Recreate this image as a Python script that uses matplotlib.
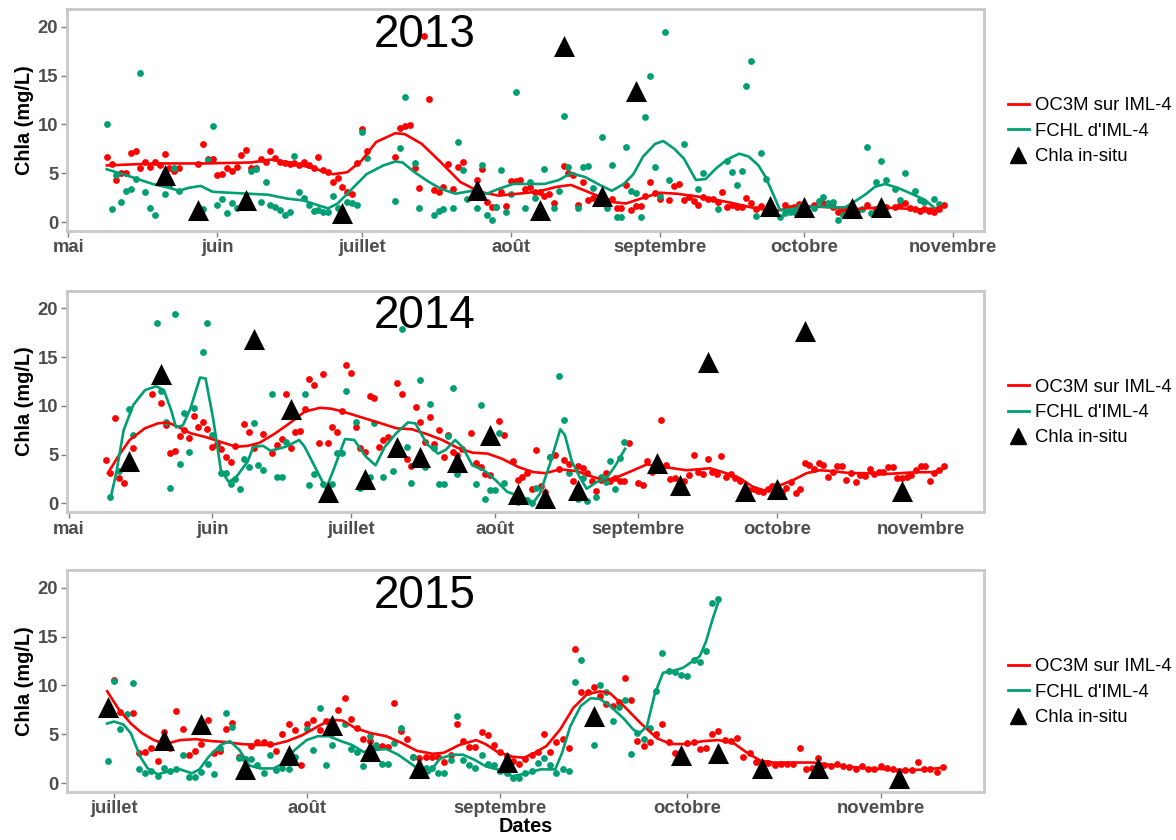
import numpy as np
import matplotlib
matplotlib.use("Agg")
import matplotlib.pyplot as plt
import matplotlib.dates as mdates
from matplotlib.lines import Line2D
from matplotlib.ticker import FuncFormatter

plt.rcParams["font.family"] = ["Liberation Sans", "DejaVu Sans"]

RED = "#FF0000"
GREEN = "#009E73"
MONTHS = ["janvier", "février", "mars", "avril", "mai", "juin", "juillet",
          "août", "septembre", "octobre", "novembre", "décembre"]

# (day, Chla) pairs; 2013 and 2014 days count from 1 May, 2015 from 1 July

# ---- 2013 ----
oc_2013 = [(8, 6.7), (9, 5.9), (10, 4.3), (11, 5.0), (12, 5.0), (13, 7.1), (14, 7.3), (15, 5.5), (16, 6.1),
           (17, 5.6), (18, 6.2), (19, 5.8), (20, 7.0), (21, 5.5), (22, 5.2), (23, 5.5), (27, 5.9), (28, 8.0),
           (29, 6.5), (30, 6.5), (31, 4.8), (32, 4.9), (33, 5.5), (34, 5.2), (35, 5.6), (36, 6.9), (37, 7.4),
           (38, 5.5), (39, 5.5), (40, 6.5), (41, 6.1), (42, 7.3), (43, 6.6), (44, 6.1), (45, 6.0), (46, 5.9),
           (47, 6.0), (48, 5.8), (49, 6.2), (50, 5.8), (51, 5.5), (52, 6.7), (53, 5.3), (54, 5.1), (55, 4.1),
           (56, 4.5), (57, 3.6), (58, 3.1), (59, 2.9), (60, 6.0), (61, 9.5), (62, 7.3), (68, 6.7), (69, 9.6),
           (70, 9.8), (71, 9.9), (72, 5.5), (73, 3.5), (74, 19.1), (75, 12.6), (76, 3.3), (77, 3.1), (78, 3.6),
           (79, 5.9), (80, 3.4), (81, 5.6), (82, 6.1), (85, 4.3), (86, 5.4), (87, 2.0), (88, 1.5), (89, 1.5),
           (90, 3.1), (91, 1.6), (92, 4.2), (93, 4.2), (94, 4.3), (95, 3.4), (96, 3.6), (97, 3.1), (98, 3.1),
           (99, 2.7), (100, 2.9), (101, 1.9), (103, 5.7), (104, 5.0), (105, 4.8), (106, 1.7), (107, 4.1),
           (108, 2.3), (109, 2.5), (112, 2.2), (113, 2.4), (114, 1.4), (115, 1.4), (116, 3.8), (117, 1.2),
           (118, 1.6), (119, 1.6), (120, 2.7), (121, 4.1), (122, 3.0), (123, 2.4), (125, 2.3), (126, 3.7),
           (127, 3.9), (128, 2.3), (129, 2.6), (130, 2.2), (131, 1.7), (132, 2.6), (133, 2.4), (134, 2.4),
           (135, 2.1), (136, 3.1), (137, 1.5), (138, 1.7), (139, 1.5), (140, 1.5), (141, 2.5), (142, 1.9),
           (143, 1.3), (144, 1.6), (146, 1.0), (149, 1.7), (150, 1.4), (151, 1.5), (152, 1.8), (153, 1.5),
           (155, 1.7), (157, 1.9), (159, 1.5), (160, 1.0), (161, 1.3), (162, 1.4), (164, 1.1), (166, 1.7),
           (168, 1.3), (170, 1.5), (172, 1.5), (173, 1.7), (174, 1.9), (175, 1.4), (176, 1.3), (177, 1.1),
           (178, 1.3), (179, 1.1), (180, 1.0), (181, 1.3), (182, 1.7)]
fc_2013 = [(8, 10.0), (9, 1.3), (10, 4.8), (11, 2.0), (12, 3.2), (13, 3.4), (14, 4.4), (15, 15.3), (16, 3.1),
           (17, 1.4), (18, 0.7), (20, 2.9), (21, 3.8), (22, 5.5), (23, 3.2), (27, 1.2), (28, 1.3), (29, 6.4),
           (30, 9.8), (31, 1.7), (32, 2.4), (33, 0.9), (34, 1.9), (35, 1.4), (38, 5.2), (39, 5.4), (40, 2.0),
           (41, 4.1), (42, 1.7), (43, 1.5), (44, 1.2), (45, 0.7), (46, 1.0), (47, 6.8), (48, 3.1), (49, 2.5),
           (50, 1.7), (51, 1.1), (52, 1.2), (53, 1.0), (54, 1.0), (55, 2.7), (56, 1.4), (58, 2.0), (59, 1.9),
           (60, 1.7), (61, 9.2), (62, 6.6), (68, 2.2), (69, 7.6), (70, 12.8), (72, 6.0), (73, 1.4), (76, 0.7),
           (77, 1.1), (78, 1.3), (80, 1.4), (81, 8.2), (82, 5.3), (83, 2.4), (85, 1.4), (86, 5.8), (87, 0.7),
           (88, 0.2), (89, 1.5), (90, 5.3), (91, 1.0), (92, 2.9), (93, 13.3), (95, 1.4), (96, 4.1), (97, 2.5),
           (99, 5.4), (101, 1.4), (102, 3.2), (103, 10.9), (104, 5.6), (106, 1.4), (107, 5.6), (108, 5.7),
           (109, 3.5), (111, 8.7), (112, 1.4), (113, 5.8), (114, 0.5), (115, 0.5), (116, 7.7), (117, 3.2),
           (118, 3.0), (119, 0.5), (120, 10.8), (121, 15.0), (122, 5.6), (123, 2.7), (124, 19.5), (125, 4.3),
           (128, 8.0), (131, 3.4), (132, 5.0), (135, 1.3), (137, 6.3), (138, 5.1), (139, 3.8), (140, 5.2),
           (141, 13.9), (142, 16.5), (143, 0.6), (144, 7.1), (145, 4.4), (148, 0.5), (149, 0.9), (150, 1.0),
           (151, 1.0), (152, 1.5), (155, 1.4), (156, 2.2), (157, 2.6), (158, 1.9), (159, 2.1), (160, 0.2),
           (161, 0.7), (165, 1.3), (166, 7.7), (167, 0.9), (168, 4.1), (169, 6.3), (170, 4.3), (172, 3.4),
           (173, 2.3), (174, 5.0), (176, 3.2), (177, 2.3), (178, 2.1), (180, 2.4), (181, 1.8)]
oc_2013_fit = [(8, 5.8), (18, 6.0), (28, 6.0), (38, 6.1), (42, 6.4), (46, 6.1), (51, 5.5), (55, 4.9),
               (58, 5.1), (61, 6.3), (64, 8.2), (68, 9.1), (70, 9.0), (73.5, 8.0), (77.5, 6.1), (81.5, 4.1),
               (85.5, 3.1), (89.5, 2.7), (93.5, 2.9), (97.5, 3.1), (101.5, 3.6), (104.5, 3.8), (107.5, 3.2),
               (110, 2.7), (113, 2.05), (116, 1.9), (119, 2.4), (123, 3.0), (126.5, 2.9), (131, 2.6),
               (137, 2.05), (142, 1.5), (146.5, 1.1), (150, 1.4), (154, 1.6), (159, 1.5), (162.5, 1.3),
               (166, 1.4), (169.5, 1.5), (173, 1.4), (177, 1.3), (180.5, 1.4), (182, 1.7)]
fc_2013_fit = [(8, 5.4), (12, 4.8), (17.5, 3.9), (21, 3.5), (23, 3.2), (25, 3.5), (27.5, 3.7), (30, 3.1),
               (33.5, 3.0), (37.5, 2.9), (41.5, 2.8), (45.5, 2.4), (49, 2.2), (52, 1.7), (54, 1.4), (56, 1.9),
               (59, 3.4), (62, 4.9), (65.5, 5.8), (68, 6.2), (69.5, 6.1), (72, 5.1), (75, 4.1), (77.5, 3.4),
               (80.5, 2.9), (84, 3.2), (87, 2.9), (89.5, 3.4), (92.5, 3.9), (96, 3.9), (99, 3.9), (102, 4.3),
               (104.5, 5.0), (107.5, 4.6), (110.5, 3.8), (113, 3.2), (115.5, 3.9), (117.5, 4.9), (119.5, 6.7),
               (122, 8.0), (123.7, 8.3), (126, 7.5), (128, 6.5), (130.5, 4.3), (132.5, 4.4), (134.7, 5.5),
               (137, 6.4), (139.5, 7.0), (141.5, 6.7), (143.5, 5.8), (145, 4.6), (146.7, 2.7), (148, 1.2),
               (150, 1.3), (152.5, 1.5), (156, 1.6), (159, 1.5), (161.5, 1.5), (163.5, 2.1), (165.7, 2.8),
               (167.7, 3.6), (169.8, 3.9), (172.5, 3.5), (175.3, 2.9), (178, 2.3), (180, 1.5)]
insitu_2013 = [(20, 4.8), (27, 1.2), (37, 2.3), (57, 0.9), (85, 3.3), (98, 1.2), (103, 18.0), (111, 2.7),
               (118, 13.4), (146, 1.6), (153, 1.5), (163, 1.4), (169, 1.5)]

# ---- 2014 ----
oc_2014 = [(8, 4.4), (9, 3.1), (10, 8.8), (11, 2.6), (12, 2.1), (14, 5.7), (18, 11.2), (20, 10.3), (21, 8.0),
           (22, 5.2), (23, 5.4), (24, 6.9), (25, 7.5), (26, 6.7), (27, 9.0), (28, 7.8), (29, 8.3), (30, 7.6),
           (31, 5.8), (32, 6.1), (33, 5.6), (34, 4.8), (35, 4.2), (36, 5.9), (38, 8.1), (39, 7.3), (40, 5.7),
           (42, 7.1), (44, 5.2), (45, 6.0), (46, 6.6), (47, 11.2), (48, 5.7), (49, 7.3), (50, 7.4), (51, 9.7),
           (52, 12.7), (53, 12.1), (54, 6.2), (55, 13.3), (56, 6.2), (57, 7.8), (58, 7.3), (59, 9.5),
           (60, 14.2), (61, 13.4), (62, 7.8), (63, 5.7), (64, 5.3), (65, 11.0), (66, 10.8), (67, 5.8),
           (68, 6.5), (69, 6.8), (71, 12.3), (72, 11.2), (73, 4.6), (74, 3.8), (75, 9.9), (76, 8.3), (77, 6.3),
           (78, 8.9), (79, 6.1), (80, 7.5), (81, 4.8), (82, 7.0), (83, 5.3), (84, 5.0), (85, 5.6), (87, 7.2),
           (88, 4.1), (89, 3.7), (90, 3.0), (91, 2.9), (93, 8.4), (94, 7.0), (96, 4.3), (97, 2.4), (98, 2.7),
           (99, 3.1), (100, 1.5), (101, 5.5), (102, 1.8), (103, 1.2), (104, 4.8), (105, 5.0), (106, 3.5),
           (107, 4.4), (108, 4.0), (109, 2.3), (110, 3.8), (111, 3.6), (112, 3.1), (113, 2.3), (114, 1.3),
           (115, 2.4), (116, 3.1), (117, 2.3), (118, 2.6), (119, 2.3), (120, 2.3), (121, 6.2), (123, 2.1),
           (124, 1.9), (125, 4.3), (126, 3.2), (128, 8.5), (129, 3.9), (130, 2.5), (131, 2.6), (132, 2.1),
           (133, 2.3), (134, 2.9), (135, 5.0), (136, 3.2), (137, 3.0), (138, 4.5), (139, 3.2), (140, 3.0),
           (141, 4.9), (142, 2.7), (143, 3.0), (144, 2.6), (145, 2.3), (147, 1.4), (148, 1.5), (149, 1.3),
           (150, 1.2), (151, 1.5), (152, 1.8), (153, 1.9), (154, 1.2), (155, 1.6), (156, 2.2), (157, 1.1),
           (158, 1.5), (159, 4.1), (160, 3.9), (161, 3.5), (162, 4.1), (163, 3.9), (164, 2.7), (165, 3.2),
           (166, 3.8), (167, 3.8), (168, 2.4), (169, 3.1), (170, 2.2), (171, 2.9), (172, 2.8), (173, 3.5),
           (174, 3.0), (175, 3.2), (176, 3.2), (177, 3.7), (178, 3.7), (179, 2.6), (180, 2.6), (181, 2.7),
           (182, 2.9), (183, 3.4), (184, 3.8), (185, 3.8), (186, 2.3), (187, 3.1), (188, 3.4), (189, 3.8)]
fc_2014 = [(9, 0.7), (11, 3.3), (13, 9.7), (14, 7.0), (19, 18.5), (20, 11.5), (21, 8.3), (22, 1.6), (23, 19.4),
           (24, 4.0), (25, 9.3), (26, 5.3), (27, 9.8), (29, 15.5), (30, 18.5), (31, 7.0), (33, 3.1), (34, 3.1),
           (35, 2.0), (36, 2.5), (37, 1.5), (38, 4.6), (39, 3.7), (40, 8.2), (41, 3.9), (42, 3.4), (44, 11.2),
           (45, 2.7), (46, 2.7), (47, 6.3), (51, 11.2), (52, 1.9), (53, 3.0), (55, 2.0), (57, 2.0), (58, 5.2),
           (59, 5.2), (60, 11.5), (62, 8.3), (63, 1.6), (65, 2.7), (66, 8.2), (68, 2.7), (70, 3.3), (72, 17.9),
           (73, 5.8), (74, 2.1), (76, 12.6), (77, 3.7), (78, 10.2), (79, 5.7), (80, 2.0), (81, 2.0), (82, 6.9),
           (83, 11.8), (84, 3.0), (88, 2.0), (89, 10.1), (90, 0.5), (91, 1.4), (92, 1.4), (93, 7.2), (94, 2.1),
           (96, 0.3), (97, 0.1), (99, 0.4), (100, 0.0), (101, 1.6), (104, 4.8), (106, 13.1), (107, 8.5),
           (108, 3.1), (110, 0.5), (111, 2.6), (112, 0.2), (114, 0.7), (115, 2.7), (116, 2.2), (117, 4.3),
           (118, 1.5), (119, 4.7), (120, 6.3)]
oc_2014_fit = [(8.5, 3.1), (10.7, 4.8), (13.2, 6.5), (16.5, 7.7), (19.3, 8.2), (21.4, 8.3), (23.9, 7.8),
               (26.3, 7.2), (29.6, 6.8), (32.9, 6.3), (36.2, 5.8), (38.7, 5.9), (41.2, 6.2), (44.4, 7.1),
               (47.7, 8.2), (51, 9.4), (54.3, 9.8), (56.8, 9.7), (59.3, 9.4), (63.4, 8.8), (67.5, 8.2),
               (70.8, 7.7), (74.1, 7.6), (77.4, 7.1), (80.7, 6.5), (84, 5.7), (87.2, 5.2), (90.5, 5.1),
               (93.5, 4.6), (97.3, 3.7), (100.4, 3.2), (103, 3.1), (106.2, 3.5), (109.8, 3.3), (112.7, 2.8),
               (115.5, 2.4), (118, 2.6), (122, 3.4), (124.9, 4.0), (129.1, 3.7), (133.4, 3.4), (138.5, 3.6),
               (142, 3.1), (144.9, 2.6), (147.8, 1.7), (150.4, 1.3), (152.9, 1.7), (156.5, 2.4), (159.4, 3.1),
               (162.3, 3.4), (165.2, 3.3), (168.8, 3.1), (172.4, 3.1), (176, 3.0), (179.6, 3.1), (183.2, 3.2),
               (186.8, 3.2), (189, 3.6)]
fc_2014_fit = [(9.1, 0.6), (10.3, 3.1), (11.9, 7.5), (14, 10.1), (16.5, 11.6), (18.9, 12.0), (20.6, 11.6),
               (22.2, 9.5), (23.2, 7.8), (24.7, 8.0), (26.3, 9.7), (28.4, 12.9), (29.6, 12.8), (31.3, 8.5),
               (32.9, 3.4), (34.6, 2.2), (36.2, 2.7), (38.7, 4.3), (39.9, 5.8), (42, 5.9), (43.6, 5.4),
               (46.9, 5.8), (49.8, 6.5), (51, 5.8), (53.9, 3.1), (55.6, 1.5), (57.2, 3.4), (59.7, 6.6),
               (61.7, 6.5), (64.2, 4.8), (66.3, 3.9), (68.3, 5.8), (70.8, 7.2), (73.3, 8.3), (74.9, 8.2),
               (77.4, 6.1), (79.8, 5.1), (81.5, 5.5), (83.5, 6.5), (85.2, 5.7), (87.2, 3.9), (89.7, 3.4),
               (92.2, 2.4), (94.7, 1.2), (96.5, 0.9), (98.6, 0.5), (100.4, 0.1), (101.8, 1.0), (104, 4.1),
               (106.2, 7.6), (107.2, 7.0), (108.7, 4.3), (110.5, 2.6), (111.9, 1.5), (114.1, 2.2), (116.2, 2.6),
               (118, 3.8), (120.2, 5.6)]
insitu_2014 = [(13, 4.3), (20, 13.3), (40, 16.8), (48, 9.7), (56, 1.2), (64, 2.5), (71, 5.8), (76, 4.8),
               (84, 4.2), (91, 7.0), (97, 1.0), (103, 0.6), (110, 1.4), (127, 4.1), (132, 1.9), (138, 14.5),
               (146, 1.3), (153, 1.5), (159, 17.7), (180, 1.3)]

# ---- 2015 ----
oc_2015 = [(0, 10.6), (1, 7.3), (3, 7.2), (4, 3.1), (5, 3.2), (6, 3.6), (7, 2.3), (8, 5.2), (9, 3.6), (10, 7.4),
           (11, 5.5), (12, 2.9), (13, 3.3), (14, 4.0), (15, 6.5), (16, 3.1), (17, 3.3), (18, 5.5), (19, 6.2),
           (20, 2.7), (21, 2.5), (22, 3.8), (23, 4.2), (24, 4.2), (25, 4.0), (26, 3.3), (27, 5.0), (28, 6.0),
           (29, 5.4), (30, 1.9), (31, 6.0), (32, 6.5), (33, 5.4), (34, 6.4), (35, 5.1), (36, 7.5), (37, 8.7),
           (38, 6.6), (39, 5.6), (40, 4.5), (41, 4.3), (42, 3.8), (43, 3.8), (44, 3.7), (45, 8.2), (46, 5.3),
           (47, 4.5), (48, 2.7), (49, 2.6), (50, 2.7), (51, 2.7), (52, 2.7), (53, 2.2), (54, 2.9), (55, 6.1),
           (56, 4.3), (57, 3.7), (58, 3.7), (59, 5.2), (60, 4.9), (61, 3.9), (62, 3.2), (63, 2.8), (64, 2.3),
           (65, 2.0), (66, 2.5), (67, 2.9), (68, 3.2), (69, 5.0), (70, 3.2), (71, 4.2), (72, 4.5), (73, 3.6),
           (74, 13.7), (75, 9.3), (76, 9.3), (77, 9.8), (78, 8.9), (79, 8.1), (80, 7.9), (81, 8.3), (82, 10.8),
           (83, 8.5), (84, 4.3), (85, 3.8), (86, 4.2), (87, 5.0), (88, 6.1), (89, 4.2), (90, 3.1), (91, 3.1),
           (92, 4.1), (93, 4.2), (94, 3.5), (95, 3.6), (96, 5.0), (97, 5.3), (98, 4.4), (99, 4.3), (100, 4.6),
           (101, 2.7), (102, 3.1), (103, 2.2), (104, 2.0), (105, 2.1), (106, 1.9), (107, 2.0), (108, 2.0),
           (109, 2.0), (110, 3.6), (111, 1.4), (112, 1.5), (113, 2.6), (114, 1.9), (115, 1.7), (116, 2.0),
           (117, 1.7), (118, 1.6), (119, 1.4), (120, 1.7), (121, 1.4), (122, 1.4), (123, 1.7), (124, 1.5),
           (125, 1.4), (126, 1.2), (127, 1.3), (128, 1.3), (129, 2.2), (130, 1.4), (131, 1.4), (132, 1.1),
           (133, 1.6)]
fc_2015 = [(-1, 2.3), (0, 10.5), (1, 5.5), (2, 7.1), (3, 10.2), (4, 1.4), (5, 1.0), (6, 1.2), (7, 0.7), (8, 1.5),
           (9, 1.2), (10, 1.4), (11, 2.9), (12, 0.6), (13, 0.6), (14, 1.1), (15, 2.0), (16, 0.9), (17, 3.6),
           (18, 7.2), (19, 5.7), (20, 2.6), (21, 2.5), (22, 2.5), (23, 1.9), (24, 1.0), (25, 2.9), (26, 1.3),
           (27, 1.5), (28, 1.4), (29, 2.7), (31, 5.5), (32, 3.4), (33, 7.7), (34, 1.9), (35, 3.9), (37, 6.1),
           (38, 3.5), (39, 3.2), (40, 1.7), (41, 4.8), (42, 3.9), (43, 2.0), (44, 2.0), (45, 4.1), (46, 5.6),
           (48, 2.7), (49, 1.4), (50, 1.5), (51, 1.5), (52, 1.0), (53, 1.0), (54, 2.4), (55, 6.9), (56, 2.4),
           (57, 1.8), (58, 1.5), (59, 2.9), (60, 2.0), (61, 1.8), (62, 1.2), (63, 1.0), (64, 0.5), (65, 0.5),
           (66, 1.0), (67, 1.2), (68, 2.1), (69, 2.6), (70, 1.9), (71, 1.0), (72, 1.4), (73, 1.2), (74, 10.4),
           (75, 12.6), (77, 3.9), (78, 10.0), (79, 9.3), (80, 6.4), (81, 7.8), (82, 8.5), (83, 3.0), (84, 5.1),
           (85, 4.5), (86, 5.6), (87, 9.4), (88, 13.3), (89, 11.5), (90, 11.4), (91, 11.1), (92, 11.0),
           (93, 12.6), (94, 12.4), (95, 13.5), (96, 18.4), (97, 18.9)]
oc_2015_fit = [(-1.1, 9.4), (0.8, 7.5), (2.7, 6.1), (4.5, 5.1), (6.4, 4.4), (8.2, 4.0), (10.6, 4.4),
               (13.1, 4.5), (15.6, 4.3), (18, 4.2), (20.4, 4.0), (22.9, 3.9), (25.3, 3.9), (27.8, 4.3),
               (30.2, 4.9), (32.7, 5.8), (34.8, 6.5), (36.7, 6.4), (38.8, 5.6), (41.3, 5.1), (43.7, 4.8),
               (46.2, 4.1), (48.6, 3.3), (51.1, 3.0), (52.9, 3.1), (55.4, 3.9), (58.1, 4.4), (59.6, 4.0),
               (61.5, 3.2), (63.9, 2.7), (65.8, 2.6), (67.5, 3.1), (69.4, 3.8), (71.6, 5.5), (73.7, 7.7),
               (75.9, 9.1), (78, 9.4), (79.6, 9.2), (81.8, 7.9), (84.4, 6.2), (87.1, 4.6), (89.3, 4.0),
               (91.9, 4.0), (94.6, 4.3), (97, 4.4), (99.4, 4.1), (101.6, 3.1), (103.7, 2.3), (105.8, 2.1),
               (109, 2.1), (112.3, 2.1), (114.4, 1.9), (117.6, 1.7), (120.9, 1.5), (124.1, 1.4), (127.2, 1.3),
               (130.4, 1.4), (133.3, 1.6)]
fc_2015_fit = [(-1.1, 6.1), (0, 6.3), (1.5, 6.0), (2.7, 5.1), (4.2, 2.7), (5.4, 1.5), (7, 0.9), (8.8, 1.2),
               (10.6, 1.4), (12.5, 1.0), (13.7, 1.4), (15.2, 2.7), (17.1, 3.9), (18.6, 4.3), (20.1, 3.4),
               (21.7, 1.8), (23.5, 1.5), (25.6, 1.5), (27.2, 2.0), (29, 3.4), (30.9, 4.4), (32.7, 4.8),
               (34.5, 4.8), (36.4, 4.3), (38.2, 3.9), (40, 3.2), (42.2, 3.4), (43.7, 3.5), (45.6, 2.9),
               (47.4, 2.1), (48.9, 1.4), (50.5, 1.0), (52.3, 2.5), (54.2, 2.9), (56, 2.9), (57.8, 2.4),
               (59.7, 1.7), (61.5, 1.4), (63.9, 0.7), (66.3, 1.0), (68.4, 1.4), (70.8, 1.4), (71.9, 3.1),
               (73.2, 5.8), (74.9, 7.9), (76.5, 8.7), (78, 8.6), (79.6, 7.9), (81.8, 6.6), (83.3, 5.5),
               (84.3, 5.1), (85.5, 5.8), (86.8, 9.2), (88.1, 11.3), (89.7, 11.5), (91.3, 11.8), (92.9, 12.5),
               (94, 13.0), (95, 14.5), (96.1, 16.9), (97.1, 18.8)]
insitu_2015 = [(-1, 7.8), (8, 4.4), (14, 6.1), (21, 1.4), (28, 2.9), (35, 5.9), (41, 3.3), (49, 1.5),
               (63, 2.2), (77, 6.9), (91, 2.9), (97, 3.1), (104, 1.5), (113, 1.5), (126, 0.5)]

panels = [
    ("2013", "2013-05-01", (-0.35, 190.4), oc_2013, fc_2013, oc_2013_fit, fc_2013_fit, insitu_2013),
    ("2014", "2014-05-01", (-0.4, 197.7), oc_2014, fc_2014, oc_2014_fit, fc_2014_fit, insitu_2014),
    ("2015", "2015-07-01", (-7.6, 139.6), oc_2015, fc_2015, oc_2015_fit, fc_2015_fit, insitu_2015),
]

fig = plt.figure(figsize=(11.76, 8.4), dpi=100)
left, width = 0.0567, 0.78
bottoms = [0.725, 0.39, 0.0571]
height = 0.264

handles = [Line2D([], [], color=RED, lw=2),
           Line2D([], [], color=GREEN, lw=2),
           Line2D([], [], color="black", marker="^", ls="", ms=12)]
labels = ["OC3M sur IML-4", "FCHL d'IML-4", "Chla in-situ"]

for i, (title, start, xr, oc, fc, oc_fit, fc_fit, insitu) in enumerate(panels):
    ax = fig.add_axes([left, bottoms[i], width, height])
    base = mdates.date2num(np.datetime64(start))

    od, ov = np.array(oc).T
    fd, fv = np.array(fc).T
    osd, osv = np.array(oc_fit).T
    fsd, fsv = np.array(fc_fit).T
    idd, iv = np.array(insitu).T

    ax.scatter(base + od, ov, s=24, color=RED, lw=0, zorder=2)
    ax.scatter(base + fd, fv, s=24, color=GREEN, lw=0, zorder=2)
    ax.plot(base + osd, osv, color=RED, lw=1.9, zorder=3)
    ax.plot(base + fsd, fsv, color=GREEN, lw=1.9, zorder=3)
    ax.scatter(base + idd, iv, s=230, marker="^", color="black", lw=0, zorder=4)

    ax.set_xlim(base + xr[0], base + xr[1])
    ax.set_ylim(-0.92, 21.8)
    ax.set_yticks([0, 5, 10, 15, 20])
    ax.xaxis.set_major_locator(mdates.MonthLocator())
    ax.xaxis.set_major_formatter(FuncFormatter(lambda x, pos: MONTHS[mdates.num2date(x).month - 1]))
    ax.tick_params(length=4, width=1, color="#7F7F7F", labelcolor="#4D4D4D", labelsize=13.3, pad=2)
    for lab in ax.get_xticklabels() + ax.get_yticklabels():
        lab.set_fontweight("bold")
    for sp in ax.spines.values():
        sp.set_color("#C8C8C8")
        sp.set_linewidth(2)
    ax.set_ylabel("Chla (mg/L)", fontsize=14.3, fontweight="bold", labelpad=3)
    ax.text(0.39, 0.885, title, transform=ax.transAxes, fontsize=33, ha="center", va="center")
    ax.legend(handles, labels, loc="center left", bbox_to_anchor=(1.026, 0.45), frameon=False,
              fontsize=13.3, handlelength=1.15, handletextpad=0.32, labelspacing=0.45,
              borderaxespad=0, borderpad=0)
    if i == 2:
        ax.set_xlabel("Dates", fontsize=14.3, fontweight="bold", labelpad=0)

fig.savefig("out.png", dpi=100)
